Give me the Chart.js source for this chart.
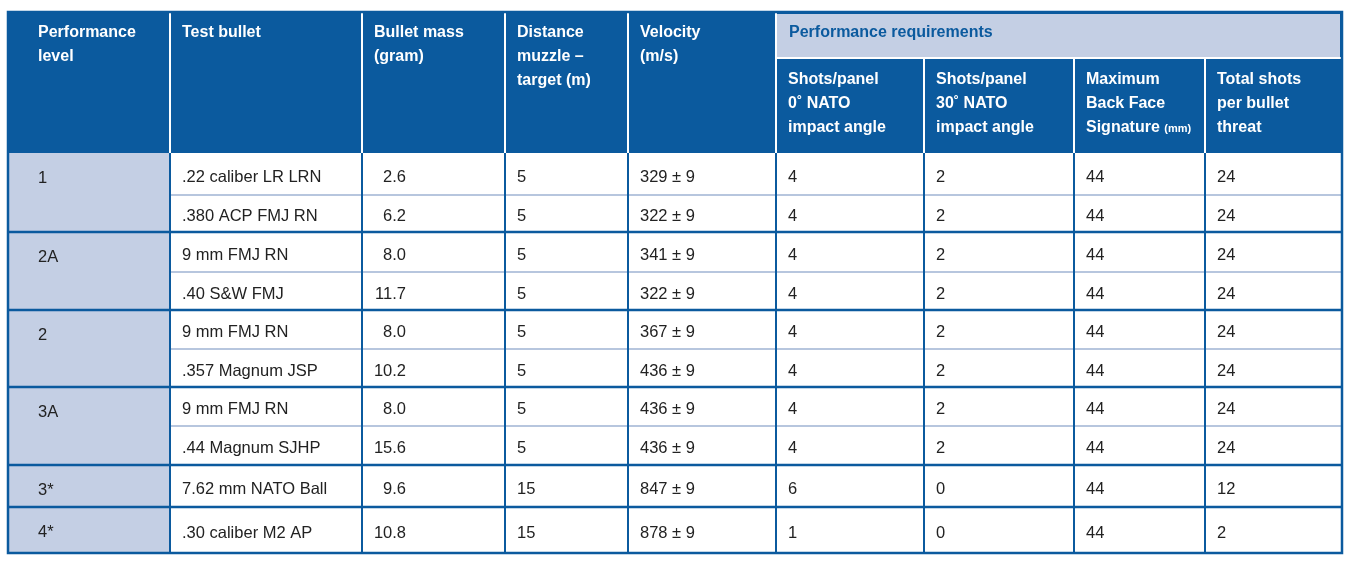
<!DOCTYPE html>
<html>
<head>
<meta charset="utf-8">
<script src="https://cdn.jsdelivr.net/npm/chart.js@4"></script>
<style>
  html, body { margin: 0; padding: 0; background: #fff; }
  #wrap { width: 1350px; height: 562px; }
</style>
</head>
<body>
<div id="wrap"><canvas id="tbl"></canvas></div>
<script>
// Table content
const headers = [
  ['Performance', 'level'],
  ['Test bullet'],
  ['Bullet mass', '(gram)'],
  ['Distance', 'muzzle \u2013', 'target (m)'],
  ['Velocity', '(m/s)'],
  ['Shots/panel', '0\u02da NATO', 'impact angle'],
  ['Shots/panel', '30\u02da NATO', 'impact angle'],
  ['Maximum', 'Back Face', 'Signature|(mm)'],
  ['Total shots', 'per bullet', 'threat']
];
const groupTitle = 'Performance requirements';
const levels = ['1', '2A', '2', '3A', '3*', '4*'];
const levelRows = [2, 2, 2, 2, 1, 1];
const bullets = ['.22 caliber LR LRN', '.380 ACP FMJ RN', '9 mm FMJ RN', '.40 S&W FMJ', '9 mm FMJ RN',
  '.357 Magnum JSP', '9 mm FMJ RN', '.44 Magnum SJHP', '7.62 mm NATO Ball', '.30 caliber M2 AP'];
const masses = ['2.6', '6.2', '8.0', '11.7', '8.0', '10.2', '8.0', '15.6', '9.6', '10.8'];
const distances = ['5', '5', '5', '5', '5', '5', '5', '5', '15', '15'];
const velocities = ['329 \u00b1 9', '322 \u00b1 9', '341 \u00b1 9', '322 \u00b1 9', '367 \u00b1 9',
  '436 \u00b1 9', '436 \u00b1 9', '436 \u00b1 9', '847 \u00b1 9', '878 \u00b1 9'];
const shots0 = ['4', '4', '4', '4', '4', '4', '4', '4', '6', '1'];
const shots30 = ['2', '2', '2', '2', '2', '2', '2', '2', '0', '0'];
const bfs = ['44', '44', '44', '44', '44', '44', '44', '44', '44', '44'];
const totals = ['24', '24', '24', '24', '24', '24', '24', '24', '12', '2'];

// Layout (in scale units = page pixels)
const colEdges = [8, 170, 362, 505, 628, 776, 924, 1074, 1205, 1342];
const rowEdges = [153, 195, 232, 272, 310, 349, 387, 426, 465, 507, 553];
const tableTop = 12, groupBottom = 58;
const DARK = '#0b5a9e', LIGHT = '#c4cfe4', THIN = '#9fb3d3';

const tablePlugin = {
  id: 'table',
  afterDraw(chart) {
    const c = chart.ctx, xs = chart.scales.x, ys = chart.scales.y;
    const X = v => xs.getPixelForValue(v), Y = v => ys.getPixelForValue(v);
    const font = (w, s) => `${w} ${s}px "Liberation Sans", Arial, sans-serif`;
    c.save();
    // header background
    c.fillStyle = DARK;
    c.fillRect(X(colEdges[0]), Y(tableTop), X(colEdges[9]) - X(colEdges[0]), Y(rowEdges[0]) - Y(tableTop));
    c.fillStyle = LIGHT;
    c.fillRect(X(colEdges[5]), Y(tableTop) + 2, X(colEdges[9]) - X(colEdges[5]) - 2, Y(groupBottom) - Y(tableTop) - 2);
    // level column background
    c.fillRect(X(colEdges[0]), Y(rowEdges[0]), X(colEdges[1]) - X(colEdges[0]), Y(rowEdges[10]) - Y(rowEdges[0]));
    // header text
    c.textBaseline = 'middle';
    c.fillStyle = DARK; c.font = font('bold', 16);
    c.fillText(groupTitle, X(colEdges[5] + 13), Y(33));
    headers.forEach((lines, i) => {
      const top = i >= 5 ? 80 : 33;
      const x0 = X(colEdges[i] + (i === 0 ? 30 : 12));
      lines.forEach((ln, j) => {
        const [main, small] = ln.split('|');
        c.fillStyle = '#fff'; c.font = font('bold', 16);
        c.fillText(main, x0, Y(top + j * 24));
        if (small) {
          const w = c.measureText(main + ' ').width;
          c.font = font('bold', 11);
          c.fillText(small, x0 + w, Y(top + j * 24 + 1));
        }
      });
    });
    // header vertical dividers (white)
    c.strokeStyle = '#fff'; c.lineWidth = 2;
    for (let i = 1; i < 9; i++) {
      const yt = i > 5 ? groupBottom : tableTop;
      c.beginPath(); c.moveTo(X(colEdges[i]), Y(yt)); c.lineTo(X(colEdges[i]), Y(rowEdges[0])); c.stroke();
    }
    c.beginPath(); c.moveTo(X(colEdges[5]), Y(groupBottom)); c.lineTo(X(colEdges[9]), Y(groupBottom)); c.stroke();
    // body text
    c.fillStyle = '#222'; c.font = font('normal', 16.5);
    let r = 0;
    levels.forEach((lv, g) => {
      c.fillText(lv, X(colEdges[0] + 30), Y(rowEdges[r] + 25));
      r += levelRows[g];
    });
    const cols = [bullets, masses, distances, velocities, shots0, shots30, bfs, totals];
    for (let k = 0; k < bullets.length; k++) {
      const yc = Y((rowEdges[k] + rowEdges[k + 1]) / 2 + 3);
      cols.forEach((arr, ci) => {
        const col = ci + 1;
        if (col === 2) {
          c.textAlign = 'right'; c.fillText(arr[k], X(406), yc); c.textAlign = 'left';
        } else {
          c.fillText(arr[k], X(colEdges[col] + 12), yc);
        }
      });
    }
    // horizontal lines
    const groupEnds = new Set([0]);
    let acc = 0; levelRows.forEach(n => { acc += n; groupEnds.add(acc); });
    for (let k = 1; k < rowEdges.length - 1; k++) {
      const thick = groupEnds.has(k);
      c.strokeStyle = thick ? DARK : THIN; c.lineWidth = thick ? 2.5 : 1.5;
      c.beginPath(); c.moveTo(X(thick ? colEdges[0] : colEdges[1]), Y(rowEdges[k])); c.lineTo(X(colEdges[9]), Y(rowEdges[k])); c.stroke();
    }
    // body verticals
    c.strokeStyle = DARK; c.lineWidth = 2;
    for (let i = 1; i < 9; i++) {
      c.beginPath(); c.moveTo(X(colEdges[i]), Y(rowEdges[0])); c.lineTo(X(colEdges[i]), Y(rowEdges[10])); c.stroke();
    }
    // outer border
    c.lineWidth = 2.5;
    c.strokeRect(X(colEdges[0]), Y(tableTop), X(colEdges[9]) - X(colEdges[0]), Y(rowEdges[10]) - Y(tableTop));
    c.restore();
  }
};

new Chart(document.getElementById('tbl'), {
  type: 'scatter',
  data: { datasets: [] },
  options: {
    responsive: true,
    maintainAspectRatio: false,
    animation: false,
    layout: { padding: 0 },
    plugins: { legend: { display: false }, tooltip: { enabled: false } },
    scales: {
      x: { type: 'linear', min: 0, max: 1350, display: false },
      y: { type: 'linear', min: 0, max: 562, reverse: true, display: false }
    }
  },
  plugins: [tablePlugin]
});
</script>
</body>
</html>
